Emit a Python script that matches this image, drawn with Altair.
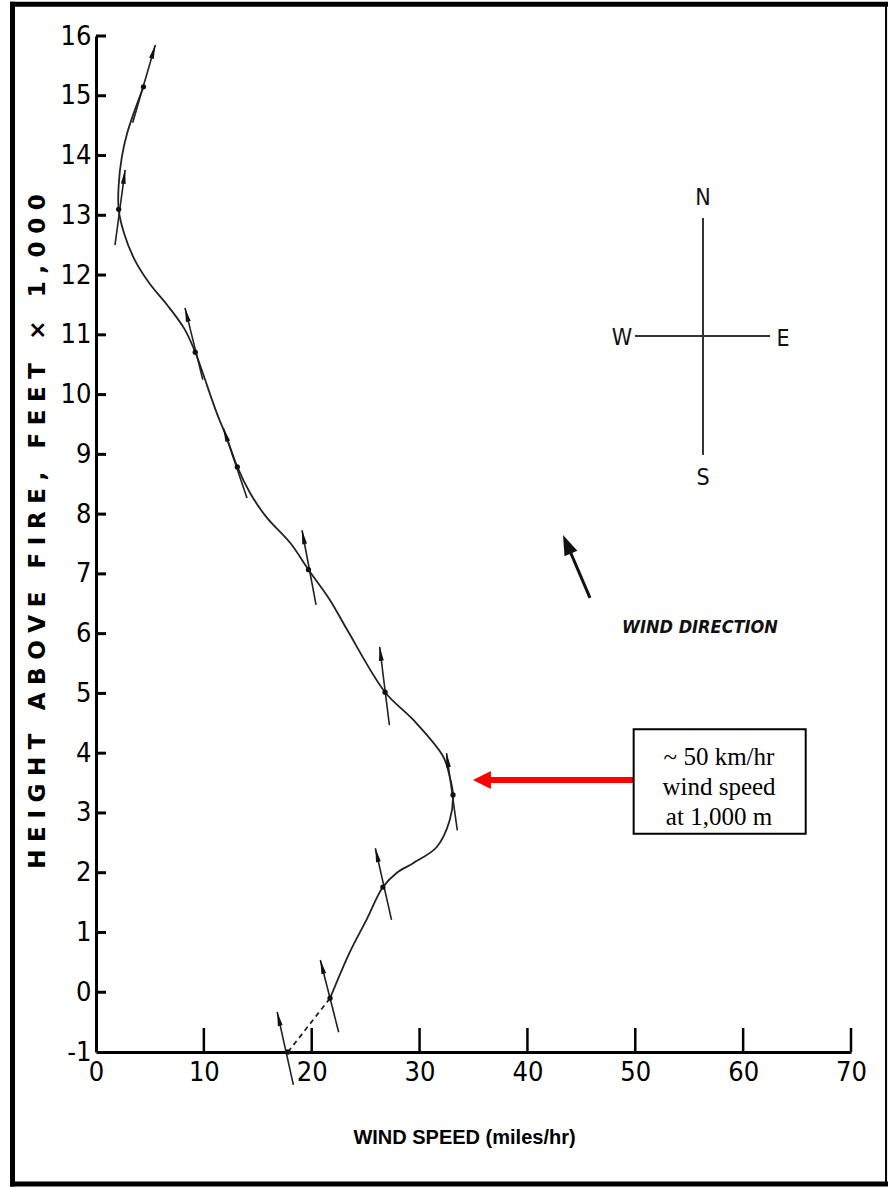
import math
import altair as alt
import pandas as pd

# ---------------------------------------------------------------
# Wind speed profile above a fire (speed in mph, height in 1,000 ft)
# ---------------------------------------------------------------

# pilot-balloon observations
obs_speed = [17.8, 21.7, 26.6, 33.1, 26.8, 19.7, 13.1, 9.2, 2.1, 4.4]
obs_height = [-1.0, -0.1, 1.76, 3.3, 5.02, 7.07, 8.79, 10.71, 13.1, 15.15]

# wind-direction arrow drawn through each observation (tail -> head)
arrow_tail_speed = [18.3, 22.5, 27.4, 33.5, 27.2, 20.4, 14.0, 9.9, 1.76, 3.4]
arrow_tail_height = [-1.55, -0.67, 1.21, 2.71, 4.47, 6.48, 8.27, 10.25, 12.5, 14.55]
arrow_head_speed = [16.8, 20.8, 25.9, 32.5, 26.3, 19.1, 11.8, 8.25, 2.7, 5.5]
arrow_head_height = [-0.33, 0.54, 2.41, 4.0, 5.78, 7.73, 9.44, 11.45, 13.76, 15.85]

# smoothed profile through the observations
profile_speed = [21.7, 23.5, 25.1, 26.6, 27.9, 29.4, 31.6, 32.8, 33.1, 32.8, 32.2,
                 29.4, 26.8, 23.3, 21.7, 19.7, 18.0, 15.8, 14.3, 13.1, 12.1, 11.2,
                 9.9, 9.2, 8.2, 6.6, 5.0, 3.6, 2.6, 2.1, 2.1, 2.4, 2.9, 3.5, 4.4]
profile_height = [-0.1, 0.66, 1.22, 1.76, 2.0, 2.16, 2.43, 2.88, 3.3, 3.6, 3.94,
                  4.56, 5.02, 6.06, 6.56, 7.07, 7.52, 7.95, 8.35, 8.79, 9.29, 9.69,
                  10.36, 10.71, 11.1, 11.5, 11.85, 12.25, 12.7, 13.1,
                  13.5, 13.98, 14.38, 14.71, 15.15]

# extrapolated segment down to fire level
dashed_speed = [17.8, 21.7]
dashed_height = [-1.0, -0.1]

# axis ticks
x_tick_values = [0, 10, 20, 30, 40, 50, 60, 70]
y_tick_values = list(range(-1, 17))

# ---------------------------------------------------------------
W, H = 755, 1016
X_DOM = [0, 70]
Y_DOM = [-1, 16]
PX_X = W / (X_DOM[1] - X_DOM[0])
PX_Y = H / (Y_DOM[1] - Y_DOM[0])


def heading(x0, y0, x1, y1):
    """Clockwise screen angle (deg) of the vector tail->head."""
    return math.degrees(math.atan2((x1 - x0) * PX_X, (y1 - y0) * PX_Y)) % 360


LABEL_FONT = "Liberation Sans Narrow, DejaVu Sans Condensed, sans-serif"

# y title with open letter spacing
title_words = ["HEIGHT", "ABOVE", "FIRE,", "FEET", "\u00d7", "1,000"]
y_title = "\u2004 \u2004".join("\u2004".join(w) for w in title_words)

x_axis = alt.Axis(values=x_tick_values, ticks=False, grid=False, domainWidth=3,
                  domainColor="black", labelFont=LABEL_FONT, labelFontSize=27,
                  labelColor="black", labelPadding=7, labelFlush=False,
                  labelOverlap=False, title="WIND SPEED (miles/hr)",
                  titleFont="Liberation Sans", titleFontWeight="bold",
                  titleFontSize=20, titleColor="black", titleX=368, titleY=85,
                  titleAlign="center", titleBaseline="middle")
y_axis = alt.Axis(values=y_tick_values, ticks=False, grid=False, domainWidth=3,
                  domainColor="black", labelFont=LABEL_FONT, labelFontSize=27,
                  labelColor="black", labelPadding=5, labelFlush=False,
                  labelOverlap=False, labelBaseline="middle",
                  labelExpr="datum.value < 0 ? '-' + abs(datum.value) : datum.label",
                  title=y_title,
                  titleFont="DejaVu Sans", titleFontWeight="bold",
                  titleFontSize=23, titleColor="black", titleAngle=270,
                  titleX=-59, titleY=495, titleAlign="center",
                  titleBaseline="middle")

X = alt.X("x:Q", scale=alt.Scale(domain=X_DOM, nice=False, zero=False), axis=x_axis)
Y = alt.Y("y:Q", scale=alt.Scale(domain=Y_DOM, nice=False, zero=False), axis=y_axis)
X2 = alt.X2("x2:Q")
Y2 = alt.Y2("y2:Q")

# page frame: heavy top, left and bottom edges, light right edge
frame_df = pd.DataFrame({
    "x": [-7.74, -7.74, -7.74, 73.25],
    "x2": [73.25, -7.74, 73.25, 73.25],
    "y": [16.53, 16.53, -3.21, 16.53],
    "y2": [16.53, -3.21, -3.21, -3.21],
    "w": [5, 5, 5, 2],
})
frame = alt.Chart(frame_df).mark_rule(color="black", strokeCap="square").encode(
    x=X, x2=X2, y=Y, y2=Y2, strokeWidth=alt.StrokeWidth("w:Q", scale=None))

# inward tick marks
y_ticks = alt.Chart(pd.DataFrame({"y": y_tick_values[1:], "x": 0, "x2": 0})).mark_rule(
    color="black", strokeWidth=3, x2Offset=10).encode(x=X, x2=X2, y=Y)
x_ticks = alt.Chart(pd.DataFrame({"x": x_tick_values[1:], "y": -1, "y2": -1})).mark_rule(
    color="black", strokeWidth=2.5, y2Offset=-24).encode(x=X, y=Y, y2=Y2)

profile_df = pd.DataFrame({"x": profile_speed, "y": profile_height,
                           "i": range(len(profile_speed))})
profile = alt.Chart(profile_df).mark_line(
    color="#222", strokeWidth=1.8, interpolate="catmull-rom").encode(
    x=X, y=Y, order=alt.Order("i:Q"))

dashed = alt.Chart(pd.DataFrame({"x": dashed_speed, "y": dashed_height, "i": [0, 1]})).mark_line(
    color="#222", strokeWidth=1.8, strokeDash=[5, 4]).encode(x=X, y=Y, order=alt.Order("i:Q"))

arrows_df = pd.DataFrame({
    "x": arrow_tail_speed, "y": arrow_tail_height,
    "x2": arrow_head_speed, "y2": arrow_head_height,
})
shafts = alt.Chart(arrows_df).mark_rule(color="#222", strokeWidth=1.6).encode(
    x=X, y=Y, x2=X2, y2=Y2)

heads_df = pd.DataFrame({
    "x": arrow_head_speed, "y": arrow_head_height,
    "angle": [heading(a, b, c, d) for a, b, c, d in zip(
        arrow_tail_speed, arrow_tail_height, arrow_head_speed, arrow_head_height)],
})
ARROW_TIP = "M0,0L0.35,2L-0.35,2Z"
heads = alt.Chart(heads_df).mark_point(
    shape=ARROW_TIP, filled=True, color="#111", size=196, opacity=1).encode(
    x=X, y=Y, angle=alt.Angle("angle:Q", scale=None))

dots = alt.Chart(pd.DataFrame({"x": obs_speed, "y": obs_height})).mark_circle(
    color="#111", size=28, opacity=1).encode(x=X, y=Y)

# compass rose
compass_lines = alt.Chart(pd.DataFrame({
    "x": [56.28, 49.97], "x2": [56.28, 62.49],
    "y": [12.956, 10.98], "y2": [8.99, 10.98],
})).mark_rule(color="#333", strokeWidth=2).encode(x=X, y=Y, x2=X2, y2=Y2)
compass_text = alt.Chart(pd.DataFrame({
    "t": ["N", "S", "W", "E"],
    "x": [56.28, 56.28, 48.77, 63.69],
    "y": [13.29, 8.605, 10.95, 10.93],
})).mark_text(font=LABEL_FONT, fontSize=23, color="#111", baseline="middle",
              align="center").encode(x=X, y=Y, text="t:N")

# wind direction key
key_tail = (45.8, 6.60)
key_head = (43.3, 7.65)
key_shaft = alt.Chart(pd.DataFrame({"x": [key_tail[0]], "y": [key_tail[1]],
                                    "x2": [43.9], "y2": [7.40]})).mark_rule(
    color="#111", strokeWidth=3).encode(x=X, y=Y, x2=X2, y2=Y2)
key_tip = alt.Chart(pd.DataFrame({"x": [key_head[0]], "y": [key_head[1]],
                                  "angle": [heading(*key_tail, *key_head)]})).mark_point(
    shape="M0,0L0.7,2L-0.7,2Z", filled=True, color="#111", size=400, opacity=1).encode(
    x=X, y=Y, angle=alt.Angle("angle:Q", scale=None))
key_text = alt.Chart(pd.DataFrame({"t": ["WIND DIRECTION"], "x": [56.0], "y": [6.095]})).mark_text(
    font=LABEL_FONT, fontSize=18, fontWeight="bold", fontStyle="italic", color="#111",
    align="center", baseline="middle").encode(x=X, y=Y, text="t:N")

# callout
callout_arrow = alt.Chart(pd.DataFrame({"x": [49.85], "x2": [36.4], "y": [3.552]})).mark_rule(
    color="#ff0000", strokeWidth=6).encode(x=X, x2=X2, y=Y)
callout_tip = alt.Chart(pd.DataFrame({"x": [34.95], "y": [3.552]})).mark_point(
    shape="M0,0L2,-1L2,1Z", filled=True, color="#ff0000", size=324, opacity=1).encode(x=X, y=Y)
callout_box = alt.Chart(pd.DataFrame({"x": [49.85], "x2": [65.8], "y": [4.40], "y2": [2.65]})).mark_rect(
    fill="white", stroke="black", strokeWidth=2).encode(x=X, x2=X2, y=Y, y2=Y2)
callout_text = alt.Chart(pd.DataFrame({
    "t": ["~ 50 km/hr", "wind speed", "at 1,000 m"],
    "x": [57.76, 57.76, 57.76],
    "y": [3.936, 3.434, 2.932],
})).mark_text(font="Liberation Serif", fontSize=25, color="black", align="center",
              baseline="middle").encode(x=X, y=Y, text="t:N")

chart = alt.layer(
    frame, y_ticks, x_ticks, profile, dashed, shafts, heads, dots,
    compass_lines, compass_text, key_shaft, key_tip, key_text,
    callout_arrow, callout_tip, callout_box, callout_text,
).properties(
    width=W, height=H,
    autosize=alt.AutoSizeParams(type="none"),
    padding={"left": 96, "top": 36, "right": 37, "bottom": 135},
    background="white",
).configure_view(stroke=None)

chart.save("out.html", embed_options={"renderer": "svg", "actions": False})
